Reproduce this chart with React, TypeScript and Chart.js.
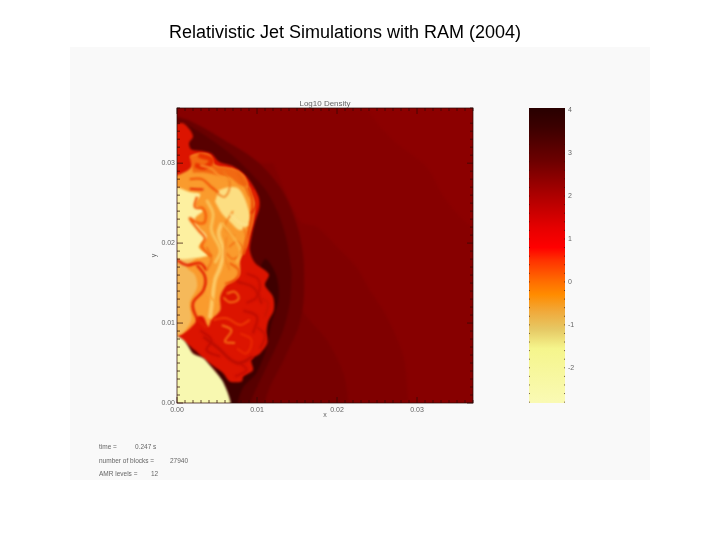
import { useEffect, useRef } from "react";
import { Chart, registerables, type ChartConfiguration, type Plugin } from "chart.js";

Chart.register(...registerables);

type Pt = [number, number];

// all outlines are in units of 1e-3 of the plot axes (x, y)
const xMax = 37;
const yMax = 36.9;

const ambient: Pt[] = [[-3, -3], [40, -3], [40, 40], [-3, 40]];
const farContour: Pt[] = [[23.7, 36.75], [25.4, 34.5], [27.4, 32.5], [31.2, 29.5], [33.3, 25.8], [36.2, 22.5], [39, 21], [40, -3], [-3, -3], [-3, 40], [23, 40]];
const midContour: Pt[] = [[12, 30], [15.4, 22.7], [17.5, 22], [20, 19.5], [22.4, 17], [24.1, 14.1], [26.2, 10.8], [28.3, 5.8], [28.9, 0], [29, -3], [-3, -3], [-3, 30]];
const nearContour: Pt[] = [[14, 18], [15.4, 12], [18.7, 7.9], [20.8, 3.7], [21.4, 0], [21.5, -3], [-3, -3], [-3, 18]];
const bowShock: Pt[] = [[-2, 36], [0, 35.8], [1.6, 35.3], [3.7, 34.2], [6.2, 32.7], [8.7, 31.2], [10.8, 29.5], [12.9, 27], [14.1, 24.75], [15.2, 21.6], [15.8, 18.3], [15.9, 15.4], [15.8, 12.5], [15.2, 9.5], [14.1, 7], [12.9, 4.5], [11.6, 2], [11, 0], [10.9, -3], [-3, -3]];
const shockInner: Pt[] = [[-2, 35.4], [0, 35.2], [2, 34.4], [4.6, 32.7], [7, 30.9], [9, 29], [11.2, 26.5], [12.7, 23.6], [13.7, 20.4], [14.3, 16.6], [14.3, 15.4], [14.1, 12.5], [13.3, 9.2], [12, 6.2], [10.8, 3.7], [9.2, 0], [9, -3], [-3, -3]];
const shockCore: Pt[] = [[11.8, 10], [12.7, 13], [12.4, 16], [11, 18], [9.5, 14], [8, 9], [5, 4], [6.7, -3], [7.6, -3], [7.6, 0], [8.3, 2], [9.9, 3.7], [11, 6.2]];
const cocoon: Pt[] = [[-1, 35], [0, 34.96], [0.8, 35], [1.6, 34.2], [2, 33.3], [1.5, 32.5], [1.8, 31.7], [3.3, 31.5], [4.3, 31.2], [5.2, 30.2], [7, 29.6], [8.3, 28.7], [9.3, 27.5], [10.2, 25.8], [10.3, 24.5], [9.75, 22.7], [9.3, 20.8], [9.1, 19.1], [9.75, 17.5], [11, 16.6], [11.5, 16], [11, 14.75], [12, 13.3], [12.1, 11.6], [11.4, 10.2], [11.2, 8.9], [11.3, 7.5], [10.4, 6.2], [9.3, 5.4], [9.5, 4.1], [8.3, 3.3], [8.1, 2.7], [6.6, 2.7], [5.8, 3.7], [4.75, 4.5], [3.3, 5.6], [2.25, 6.6], [0, 8.3], [-1, 8.3]];
const orangeCore: Pt[] = [[-1, 28.5], [0, 28.5], [0.6, 28.7], [1.6, 29.3], [2.25, 30.4], [1.6, 30.8], [2.7, 31.2], [4.1, 31], [4.75, 29.75], [7, 29.3], [8.3, 28.5], [8.9, 27.25], [9.75, 25], [9.5, 22.7], [9.1, 21.2], [8.7, 19.5], [7.9, 17.9], [7.9, 16.6], [7.7, 15.8], [6.2, 14.75], [5.4, 13.3], [5.4, 11.6], [4.3, 10.4], [3.9, 9.5], [3.3, 10.8], [2.5, 10.8], [2.25, 10], [0.6, 8.6], [-1, 8.4]];
const upperBand: Pt[] = [[1.6, 30.8], [2.7, 31.2], [4.1, 31], [4.75, 29.75], [7, 29.3], [8.3, 28.5], [8.9, 27.25], [8, 27.2], [6.5, 28.3], [5, 28.5], [3.5, 28.8], [2, 28.8]];
const tanColumn: Pt[] = [[-1, 18], [2.25, 18.1], [1.2, 17], [2.25, 16], [2.5, 14.5], [1.6, 12.5], [1.8, 10.4], [0.6, 8.7], [-1, 8.3]];
const paleColumn: Pt[] = [[-1, 27], [0, 27], [1.6, 26.4], [2.9, 26.1], [2.25, 24.75], [3.3, 24.1], [2.25, 23.1], [2.7, 22], [3.7, 20.8], [2.7, 19.5], [3.9, 18.5], [2.25, 18.1], [0, 17.9], [-1, 17.9]];
const paleMiddle: Pt[] = [[5.2, 26.6], [6.4, 27], [7.7, 26.8], [8.7, 25], [9.1, 22.7], [7.9, 21.6], [6.6, 22.7], [5.6, 23.7], [4.75, 25.2]];
const jetBase: Pt[] = [[-1, 8.4], [0, 8.4], [1, 7.7], [2, 6.2], [3.3, 5.6], [4.3, 4.5], [5.6, 2.9], [6.3, 1.4], [6.7, 0], [6.7, -3], [-1, -3]];

// filaments inside the cocoon
const redTopLeft: Pt[] = [[2.7, 31], [4.3, 30.4], [3.5, 29.5], [2.25, 29.75]];
const redArmUpper: Pt[] = [[1.6, 28], [3.1, 28], [4.3, 27], [5.2, 26.3]];
const redArmLower: Pt[] = [[1.6, 26.8], [3.3, 26.7]];
const columnEdge: Pt[] = [[2.5, 25.8], [2.25, 24.5], [3.3, 24.3], [3.5, 22.7], [2.7, 22.5], [1.6, 23.1], [2.7, 21.6], [3.5, 20.6], [3.1, 19.6], [4.3, 18.3]];
const columnFoot: Pt[] = [[0, 17.9], [1.2, 17.25], [2.9, 17.5], [3.7, 16.6]];
const redStrip: Pt[] = [[2.5, 17.25], [3.5, 15.8], [3.3, 14.1], [2, 12.5], [2.5, 10.6], [3.7, 9.4]];
const paleBand: Pt[] = [[5.6, 22.5], [5.2, 21.2], [5.8, 19.1], [5.4, 17], [4.75, 15.4], [4.5, 13.7], [4.3, 12], [4.1, 10.6]];
const swirlA: Pt[] = [[6.5, 19.5], [7.5, 20.2], [8.2, 19], [7, 18], [6.2, 18.7]];
const swirlB: Pt[] = [[7, 24], [6, 22], [7.2, 20.8]];
const outerRim: Pt[] = [[8.9, 27], [9.4, 25.4], [9.3, 23], [8.8, 20.8], [8.3, 18.6]];
const streakA: Pt[] = [[5.8, 29.1], [6.6, 27.5], [6, 25.8], [5, 26.2]];
const streakB: Pt[] = [[7.5, 29.1], [8.3, 27.5], [9.1, 25.8]];
const streakC: Pt[] = [[3.7, 25.4], [4.5, 23.7], [4.3, 21.6], [5.4, 19.1], [4.75, 17.5]];
const streakD: Pt[] = [[6.6, 23.7], [7.9, 22.5], [8.9, 22.3]];
const streakE: Pt[] = [[5.6, 22.5], [7, 20.8], [7.9, 19.1], [7.5, 17.5]];
const streakF: Pt[] = [[6.2, 20.8], [6, 18.3], [6.6, 16.6]];
const streakG: Pt[] = [[3.7, 19.5], [4.3, 17.9], [3.7, 16.6]];
const streakH: Pt[] = [[8.3, 22], [8.7, 20.4], [7.9, 18.7]];
const streakI: Pt[] = [[9.5, 26.6], [10, 25], [9.3, 23.7]];
const streakJ: Pt[] = [[2.9, 29.75], [4.3, 29.3], [5.4, 28.3], [6.6, 27.9]];
const lowerSwirlL: Pt[] = [[6.6, 17.5], [7.7, 16.6], [7.25, 15.4], [6, 14.9]];
const lowerSwirlM: Pt[] = [[4.3, 15.4], [3.9, 13.7], [5, 12.5]];
const lowerSwirlN: Pt[] = [[8.7, 16.2], [10.2, 15.4], [10, 13.3], [8.7, 12.5]];
const lowerSwirlP: Pt[] = [[4.5, 10.4], [6.2, 10.6], [7.9, 9.75], [9.1, 10.4]];
const lowerSwirlQ: Pt[] = [[2.9, 9.1], [4.3, 7.9], [3.7, 6.6], [5.4, 5.8]];
const lowerSwirlR: Pt[] = [[7.9, 8.7], [9.3, 7.9], [8.7, 6.2], [7.5, 6.8]];
const lowerSwirlS: Pt[] = [[10, 9.5], [11, 8.5], [10.4, 6.8]];
const lowerSwirlT: Pt[] = [[7.9, 5], [8.7, 4.1], [7.25, 3.3]];
const lowerSwirlU: Pt[] = [[10.6, 13.1], [11.4, 12.5], [11, 10.8]];
const lowerOrangeA: Pt[] = [[6.2, 13.7], [7.25, 13.9], [7.7, 13], [6.6, 12.6], [5.8, 13.2]];
const lowerOrangeB: Pt[] = [[5.6, 9.75], [6.8, 9.1], [6, 7.7], [7.25, 7.5]];
const lowerDarkA: Pt[] = [[3.3, 8.3], [5, 7], [7.5, 5], [9.5, 5.8]];
const lowerDarkB: Pt[] = [[8.3, 11.6], [10, 10.8], [9.5, 8.7]];
const lowerDarkC: Pt[] = [[7.5, 15.2], [9.6, 14.4], [10.6, 12.4]];

const regions: [Pt[], string][] = [
  [ambient, "rgb(140,0,0)"],
  [farContour, "rgb(135,0,0)"],
  [midContour, "rgb(128,0,0)"],
  [nearContour, "rgb(120,0,0)"],
  [bowShock, "rgb(106,0,0)"],
  [shockInner, "rgb(88,0,0)"],
  [shockCore, "rgb(62,0,0)"],
  [cocoon, "rgb(220,20,0)"],
  [orangeCore, "rgb(250,155,45)"],
  [upperBand, "rgb(242,105,18)"],
  [tanColumn, "rgb(245,185,90)"],
  [paleColumn, "rgb(253,240,160)"],
  [paleMiddle, "rgb(252,222,130)"],
];

const filaments: [Pt[], string, number][] = [
  [redTopLeft, "rgb(232,50,0)", 5],
  [redArmUpper, "rgb(240,80,5)", 2],
  [redArmLower, "rgb(228,35,0)", 2],
  [columnEdge, "rgb(245,95,10)", 2.5],
  [columnFoot, "rgb(228,30,0)", 2.5],
  [redStrip, "rgb(225,30,0)", 2.5],
  [paleBand, "rgb(252,200,100)", 4],
  [swirlA, "rgb(240,95,10)", 1.2],
  [swirlB, "rgb(245,120,20)", 1.5],
  [outerRim, "rgb(238,80,8)", 3],
  [streakA, "rgb(240,120,25)", 1.5],
  [streakB, "rgb(235,100,15)", 1.5],
  [streakC, "rgb(250,195,90)", 3],
  [streakD, "rgb(252,225,140)", 2],
  [streakE, "rgb(250,180,70)", 2.5],
  [streakF, "rgb(245,130,30)", 1.5],
  [streakG, "rgb(240,110,20)", 1.5],
  [streakH, "rgb(245,120,25)", 1.5],
  [streakI, "rgb(225,40,0)", 2],
  [streakJ, "rgb(250,150,45)", 2],
  [lowerSwirlL, "rgb(240,90,10)", 2],
  [lowerSwirlM, "rgb(250,160,50)", 2],
  [lowerSwirlN, "rgb(195,12,0)", 2],
  [lowerSwirlP, "rgb(240,60,5)", 2],
  [lowerSwirlQ, "rgb(190,10,0)", 2],
  [lowerSwirlR, "rgb(235,40,0)", 2],
  [lowerSwirlS, "rgb(195,15,0)", 2],
  [lowerSwirlT, "rgb(200,12,0)", 2.5],
  [lowerSwirlU, "rgb(205,20,0)", 2],
  [lowerOrangeA, "rgb(245,110,20)", 2],
  [lowerOrangeB, "rgb(245,110,20)", 2],
  [lowerDarkA, "rgb(190,12,0)", 3],
  [lowerDarkB, "rgb(195,12,0)", 2.5],
  [lowerDarkC, "rgb(195,14,0)", 2.5],
];

// colour bar, log density value -> colour
const barValues = [4.05, 3.6, 2.8, 2.05, 1.26, 0.8, 0.5, 0, -0.3, -0.7, -1.1, -1.55, -2.82];
const barColours = ["#280000", "#3c0000", "#6e0000", "#aa0000", "#e60000", "#ff0000", "#ff3200", "#ff6e00", "#ff8c00", "#f0aa3c", "#e6c864", "#f5f58c", "#fafab4"];

const titleText = "Relativistic Jet Simulations with RAM (2004)";
const plotTitle = "Log10 Density";
const infoRows: [string, number, number][] = [
  ["time =", 99, 449],
  ["0.247 s", 135, 449],
  ["number of blocks =", 99, 463],
  ["27940", 170, 463],
  ["AMR levels =", 99, 476],
  ["12", 151, 476],
];

const tickColour = "rgba(45,10,5,0.9)";
const labelColour = "#666";
const sans = "'Liberation Sans', Arial, sans-serif";

function toPoints(outline: Pt[]) {
  return outline.map(([x, y]) => ({ x, y }));
}

function inwardTicks(c: CanvasRenderingContext2D, area: any, scale: any, long: number, short: number, major: (v: number) => boolean, sides: string[]) {
  for (const tick of scale.ticks) {
    const p = scale.getPixelForValue(tick.value);
    const len = major(tick.value) ? long : short;
    c.beginPath();
    for (const side of sides) {
      if (side === "left") { c.moveTo(area.left, p); c.lineTo(area.left + len, p); }
      if (side === "right") { c.moveTo(area.right, p); c.lineTo(area.right - len, p); }
      if (side === "bottom") { c.moveTo(p, area.bottom); c.lineTo(p, area.bottom - len); }
      if (side === "top") { c.moveTo(p, area.top); c.lineTo(p, area.top + len); }
    }
    c.stroke();
  }
}

const softText = "blur(0.35px)";

const softenPlugin: Plugin = {
  id: "soften",
  beforeDraw(chart) {
    chart.ctx.filter = softText;
  },
  beforeDatasetsDraw(chart) {
    chart.ctx.save();
    chart.ctx.filter = "blur(1px)";
  },
  afterDatasetsDraw(chart) {
    chart.ctx.restore();
  },
};

const framePlugin: Plugin = {
  id: "frame",
  afterDraw(chart) {
    const { ctx: c, chartArea: area, scales } = chart;
    const isMajor = (v: number) => v % 10 === 0;
    c.save();
    c.strokeStyle = tickColour;
    c.lineWidth = 0.8;
    c.strokeRect(area.left, area.top, area.right - area.left, area.bottom - area.top);
    inwardTicks(c, area, scales.x, 6, 3, isMajor, ["bottom", "top"]);
    inwardTicks(c, area, scales.y, 6, 3, isMajor, ["left", "right"]);

    c.fillStyle = labelColour;
    c.textAlign = "center";
    c.textBaseline = "alphabetic";
    c.font = `8px ${sans}`;
    c.fillText(plotTitle, 325, 106);
    c.textAlign = "left";
    c.font = `6.5px ${sans}`;
    for (const [text, x, y] of infoRows) c.fillText(text, x, y);

    c.filter = "none";
    c.fillStyle = "#000";
    c.textAlign = "center";
    c.font = `18px ${sans}`;
    c.fillText(titleText, 345, 38);
    c.restore();
  },
};

const barFramePlugin: Plugin = {
  id: "barFrame",
  beforeDraw(chart) {
    chart.ctx.filter = softText;
  },
  afterDraw(chart) {
    const { ctx: c, chartArea: area, scales } = chart;
    c.save();
    c.strokeStyle = tickColour;
    c.lineWidth = 0.7;
    inwardTicks(c, area, scales.y, 1, 1, () => false, ["left", "right"]);
    c.restore();
  },
};

function buildFieldConfig(): ChartConfiguration {
  const layers = [
    ...regions.map(([outline, colour]) => ({
      data: toPoints(outline),
      showLine: true,
      fill: "shape",
      backgroundColor: colour,
      borderWidth: 0,
      pointRadius: 0,
      tension: outline === ambient ? 0 : 0.3,
    })),
    ...filaments.map(([line, colour, width]) => ({
      data: toPoints(line),
      showLine: true,
      fill: false,
      borderColor: colour,
      borderWidth: width,
      pointRadius: 0,
      tension: 0.4,
    })),
    {
      data: toPoints(jetBase),
      showLine: true,
      fill: "shape",
      backgroundColor: "rgb(248,248,176)",
      borderWidth: 0,
      pointRadius: 0,
      tension: 0.25,
    },
  ];
  const datasets = layers.map((d, i) => ({ ...d, order: layers.length - i }));

  const tickStyle = {
    stepSize: 1,
    autoSkip: false,
    maxRotation: 0,
    color: labelColour,
    font: { size: 7, family: sans },
    callback: (v: any) => (Number(v) % 10 === 0 ? (Number(v) / 1000).toFixed(2) : ""),
  };

  return {
    type: "scatter",
    data: { datasets: datasets as any },
    options: {
      responsive: false,
      animation: false,
      events: [],
      layout: { padding: { left: 150, right: 247, top: 108, bottom: 121 } },
      plugins: { legend: { display: false }, tooltip: { enabled: false } },
      scales: {
        x: {
          type: "linear",
          min: 0,
          max: xMax,
          grid: { display: false, drawTicks: false },
          border: { display: false },
          ticks: { ...tickStyle, padding: 3 },
          title: { display: true, text: "x", color: labelColour, font: { size: 7, family: sans }, padding: 0 },
          afterFit: (s: any) => { s.height = 16; },
        },
        y: {
          type: "linear",
          min: 0,
          max: yMax,
          grid: { display: false, drawTicks: false },
          border: { display: false },
          ticks: { ...tickStyle, padding: 2 },
          title: { display: true, text: "y", color: labelColour, font: { size: 7, family: sans }, padding: 0 },
          afterFit: (s: any) => { s.width = 27; },
        },
      },
    },
    plugins: [softenPlugin, framePlugin],
  };
}

function buildBarConfig(): ChartConfiguration {
  const bottom = barValues[barValues.length - 1];
  const top = barValues[0];
  return {
    type: "bar",
    data: {
      labels: ["density"],
      datasets: [
        {
          data: [[bottom, top]] as any,
          barPercentage: 1,
          categoryPercentage: 1,
          backgroundColor: (ctx: any) => {
            const { chart } = ctx;
            const scale = chart.scales.y;
            const y0 = scale ? scale.getPixelForValue(top) : NaN;
            const y1 = scale ? scale.getPixelForValue(bottom) : NaN;
            if (!Number.isFinite(y0) || !Number.isFinite(y1) || y0 === y1) return barColours[0];
            const g = chart.ctx.createLinearGradient(0, y0, 0, y1);
            barValues.forEach((v, i) => g.addColorStop((scale.getPixelForValue(v) - y0) / (y1 - y0), barColours[i]));
            return g;
          },
        },
      ],
    },
    options: {
      responsive: false,
      animation: false,
      events: [],
      layout: { padding: { left: 529, right: 129, top: 108, bottom: 137 } },
      plugins: { legend: { display: false }, tooltip: { enabled: false } },
      scales: {
        x: { display: false },
        y: {
          position: "right",
          min: bottom,
          max: top,
          grid: { display: false, drawTicks: false },
          border: { display: false },
          ticks: {
            stepSize: 0.2,
            includeBounds: false,
            autoSkip: false,
            padding: 3,
            color: labelColour,
            font: { size: 7, family: sans },
            callback: (v: any) => {
              const n = Number(v);
              return Math.abs(n - Math.round(n)) < 1e-6 ? String(Math.round(n)) : "";
            },
          },
          afterFit: (s: any) => { s.width = 26; },
        },
      },
    },
    plugins: [barFramePlugin],
  };
}

const layerStyle = { position: "absolute", left: 0, top: 0, display: "block" } as const;

export default function App(): JSX.Element {
  const fieldRef = useRef<HTMLCanvasElement>(null);
  const barRef = useRef<HTMLCanvasElement>(null);

  useEffect(() => {
    if (!fieldRef.current || !barRef.current) return;
    const field = new Chart(fieldRef.current, buildFieldConfig());
    const bar = new Chart(barRef.current, buildBarConfig());
    return () => {
      field.destroy();
      bar.destroy();
    };
  }, []);

  return (
    <div style={{ position: "absolute", left: 0, top: 0, width: 720, height: 540, background: "#fff", overflow: "hidden" }}>
      <div style={{ position: "absolute", left: 70, top: 47, width: 580, height: 433, background: "#f9f9f9" }} />
      <canvas ref={barRef} width={720} height={540} style={layerStyle} />
      <canvas ref={fieldRef} width={720} height={540} style={layerStyle} />
    </div>
  );
}
